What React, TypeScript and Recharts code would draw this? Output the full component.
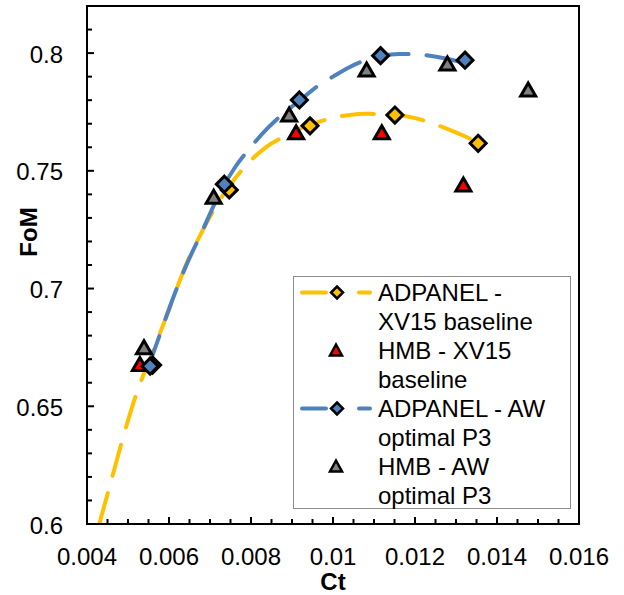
import React from 'react';
import {
  ComposedChart, Line, Scatter, XAxis, YAxis, ReferenceArea, Legend, Label
} from 'recharts';

// measured points (Ct vs FoM)
const ADPANEL_XV15_CT = [0.0056, 0.00747, 0.00944, 0.01151, 0.01354];
const ADPANEL_XV15_FOM = [0.6675, 0.7419, 0.7691, 0.7737, 0.7617];
const HMB_XV15_CT = [0.00529, 0.0091, 0.01119, 0.01318];
const HMB_XV15_FOM = [0.6677, 0.7662, 0.7662, 0.744];
const ADPANEL_AW_CT = [0.00554, 0.00735, 0.00918, 0.01116, 0.01322];
const ADPANEL_AW_FOM = [0.667, 0.7443, 0.7801, 0.7989, 0.797];
const HMB_AW_CT = [0.00539, 0.00709, 0.00893, 0.01082, 0.01279, 0.01476];
const HMB_AW_FOM = [0.6749, 0.7388, 0.7737, 0.7928, 0.7954, 0.7843];

// dashed trend curves
const XV15_TREND_CT = [0.0043, 0.0046, 0.0049, 0.0052, 0.0056, 0.006, 0.0064, 0.0068, 0.0072, 0.0076, 0.008, 0.0084, 0.0088, 0.0092, 0.0096, 0.01, 0.0104, 0.0108, 0.0112, 0.0116, 0.012, 0.0124, 0.0128, 0.0132, 0.0136];
const XV15_TREND_FOM = [0.6, 0.619, 0.638, 0.655, 0.673, 0.691, 0.7095, 0.724, 0.7365, 0.7465, 0.7545, 0.7605, 0.7645, 0.768, 0.7705, 0.7725, 0.7737, 0.7742, 0.7741, 0.7737, 0.7724, 0.7703, 0.7677, 0.7648, 0.7615];
const AW_TREND_CT = [0.0055, 0.0058, 0.0061, 0.0064, 0.0068, 0.0072, 0.0076, 0.008, 0.0084, 0.0088, 0.0092, 0.0096, 0.01, 0.0104, 0.0108, 0.0112, 0.0116, 0.012, 0.0124, 0.0128, 0.0132];
const AW_TREND_FOM = [0.667, 0.6815, 0.696, 0.709, 0.724, 0.7392, 0.7512, 0.7602, 0.768, 0.7745, 0.78, 0.7857, 0.79, 0.794, 0.797, 0.7988, 0.7996, 0.7995, 0.7988, 0.7975, 0.7958];

const X_TICKS = [0.004, 0.0045, 0.005, 0.0055, 0.006, 0.0065, 0.007, 0.0075, 0.008, 0.0085, 0.009, 0.0095, 0.01, 0.0105, 0.011, 0.0115, 0.012, 0.0125, 0.013, 0.0135, 0.014, 0.0145, 0.015, 0.0155, 0.016];
const X_LABELS = [0.004, 0.006, 0.008, 0.01, 0.012, 0.014, 0.016];
const Y_TICKS = [0.6, 0.61, 0.62, 0.63, 0.64, 0.65, 0.66, 0.67, 0.68, 0.69, 0.7, 0.71, 0.72, 0.73, 0.74, 0.75, 0.76, 0.77, 0.78, 0.79, 0.8, 0.81, 0.82];
const Y_LABELS = [0.6, 0.65, 0.7, 0.75, 0.8];

const SERIES_NAMES = ['ADPANEL - XV15 baseline', 'HMB - XV15 baseline', 'ADPANEL - AW optimal P3', 'HMB - AW optimal P3'];

const YELLOW = '#FFC000';
const BLUE = '#4F81BD';
const RED = '#FF0000';
const GRAY = '#808080';
const FONT = '"Liberation Sans", Arial, sans-serif';
const TICK_GAP = 24; // distance from axis line to tick label anchor

const zip = (xs: number[], ys: number[]) => xs.map((x, i) => ({ x, y: ys[i] }));

const isIn = (list: number[], v: number) => list.some((m) => Math.abs(m - v) < 1e-9);
const fmt = (v: number) => String(parseFloat(v.toFixed(3)));

// inward tick marks + labels, drawn together
const XTick = ({ x, y, payload }: any) => {
  const major = isIn(X_LABELS, payload.value);
  const axisY = y - TICK_GAP;
  return (
    <g>
      <line x1={x} y1={axisY} x2={x} y2={axisY - (major ? 7 : 5)} stroke="#000" strokeWidth={2} />
      {major && (
        <text x={x} y={y} dy="0.71em" textAnchor="middle" fontSize={24} fill="#000">{fmt(payload.value)}</text>
      )}
    </g>
  );
};

const YTick = ({ x, y, payload }: any) => {
  const major = isIn(Y_LABELS, payload.value);
  const axisX = x + TICK_GAP;
  return (
    <g>
      <line x1={axisX} y1={y} x2={axisX + (major ? 7 : 5)} y2={y} stroke="#000" strokeWidth={2} />
      {major && (
        <text x={x} y={y} dy="0.4em" textAnchor="end" fontSize={24} fill="#000">{fmt(payload.value)}</text>
      )}
    </g>
  );
};

const Diamond = ({ cx, cy, fill, r = 8, sw = 3 }: any) => (
  <polygon
    points={`${cx},${cy - r} ${cx + r},${cy} ${cx},${cy + r} ${cx - r},${cy}`}
    fill={fill}
    stroke="#000"
    strokeWidth={sw}
    strokeLinejoin="miter"
  />
);

const Triangle = ({ cx, cy, fill, w = 7.5, up = 7, down = 6, sw = 3 }: any) => (
  <polygon
    points={`${cx},${cy - up} ${cx + w},${cy + down} ${cx - w},${cy + down}`}
    fill={fill}
    stroke="#000"
    strokeWidth={sw}
    strokeLinejoin="miter"
  />
);

const LEGEND_ITEMS = [
  { color: YELLOW, marker: 'diamond', line: true },
  { color: RED, marker: 'triangle', line: false },
  { color: BLUE, marker: 'diamond', line: true },
  { color: GRAY, marker: 'triangle', line: false },
];

const LegendBox = () => (
  <div
    style={{
      width: 278, height: 233, boxSizing: 'border-box', border: '1.5px solid #8c8c8c',
      background: '#fff', position: 'relative', fontSize: 24, lineHeight: '29px',
      color: '#000', fontFamily: FONT,
    }}
  >
    {LEGEND_ITEMS.map((it, i) => (
      <div key={i} style={{ position: 'absolute', left: 0, top: 0.5 + i * 58, width: 276 }}>
        <svg width={84} height={29} style={{ position: 'absolute', left: 0, top: 0 }}>
          {it.line && (
            <>
              <line x1={8} y1={14.5} x2={32} y2={14.5} stroke={it.color} strokeWidth={4} strokeLinecap="round" />
              <line x1={65} y1={14.5} x2={76} y2={14.5} stroke={it.color} strokeWidth={4} strokeLinecap="round" />
            </>
          )}
          {it.marker === 'diamond'
            ? <Diamond cx={43} cy={14.5} r={6} sw={2.5} fill={it.color} />
            : <Triangle cx={42} cy={14.5} w={6} up={6} down={5} sw={2.5} fill={it.color} />}
        </svg>
        <div style={{ marginLeft: 84, width: 185 }}>{SERIES_NAMES[i]}</div>
      </div>
    ))}
  </div>
);

export default function App() {
  const dash = { strokeWidth: 4, strokeDasharray: '32 18', strokeLinecap: 'round' as const };

  return (
    <div style={{ position: 'absolute', left: 0, top: 0, width: 624, height: 595, background: '#fff', fontFamily: FONT }}>
      <ComposedChart width={624} height={595} margin={{ top: 6, right: 45, bottom: 0, left: 0 }}>
        <XAxis
          type="number"
          dataKey="x"
          domain={[0.004, 0.016]}
          ticks={X_TICKS}
          interval={0}
          height={71}
          tickSize={0}
          tickMargin={TICK_GAP}
          tickLine={false}
          axisLine={{ stroke: '#000', strokeWidth: 2 }}
          tick={<XTick />}
          allowDataOverflow
        >
          <Label
            content={({ viewBox }: any) => (
              <text x={viewBox.x + viewBox.width / 2} y={590} textAnchor="middle" fontSize={24} fontWeight="bold" fill="#000">
                Ct
              </text>
            )}
          />
        </XAxis>
        <YAxis
          type="number"
          dataKey="y"
          domain={[0.6, 0.82]}
          ticks={Y_TICKS}
          interval={0}
          width={87}
          tickSize={0}
          tickMargin={TICK_GAP}
          tickLine={false}
          axisLine={{ stroke: '#000', strokeWidth: 2 }}
          tick={<YTick />}
          allowDataOverflow
        >
          <Label
            content={() => (
              <text x={37} y={232} transform="rotate(-90 37 232)" textAnchor="middle" fontSize={24} fontWeight="bold" fill="#000">
                FoM
              </text>
            )}
          />
        </YAxis>
        <ReferenceArea x1={0.004} x2={0.016} y1={0.6} y2={0.82} fill="none" stroke="#000" strokeWidth={2} ifOverflow="visible" />
        <Line data={zip(XV15_TREND_CT, XV15_TREND_FOM)} dataKey="y" type="monotone" stroke={YELLOW} {...dash} dot={false} isAnimationActive={false} legendType="none" />
        <Line data={zip(AW_TREND_CT, AW_TREND_FOM)} dataKey="y" type="monotone" stroke={BLUE} {...dash} dot={false} isAnimationActive={false} legendType="none" />
        <Scatter data={zip(HMB_XV15_CT, HMB_XV15_FOM)} isAnimationActive={false} shape={(p: any) => <Triangle cx={p.cx} cy={p.cy} fill={RED} />} />
        <Scatter data={zip(HMB_AW_CT, HMB_AW_FOM)} isAnimationActive={false} shape={(p: any) => <Triangle cx={p.cx} cy={p.cy} fill={GRAY} />} />
        <Scatter data={zip(ADPANEL_XV15_CT, ADPANEL_XV15_FOM)} isAnimationActive={false} shape={(p: any) => <Diamond cx={p.cx} cy={p.cy} fill={YELLOW} />} />
        <Scatter data={zip(ADPANEL_AW_CT, ADPANEL_AW_FOM)} isAnimationActive={false} shape={(p: any) => <Diamond cx={p.cx} cy={p.cy} fill={BLUE} />} />
        <Legend
          layout="vertical"
          align="center"
          verticalAlign="middle"
          wrapperStyle={{ left: 293, top: 276, width: 278, height: 233 }}
          content={() => <LegendBox />}
        />
      </ComposedChart>
    </div>
  );
}
